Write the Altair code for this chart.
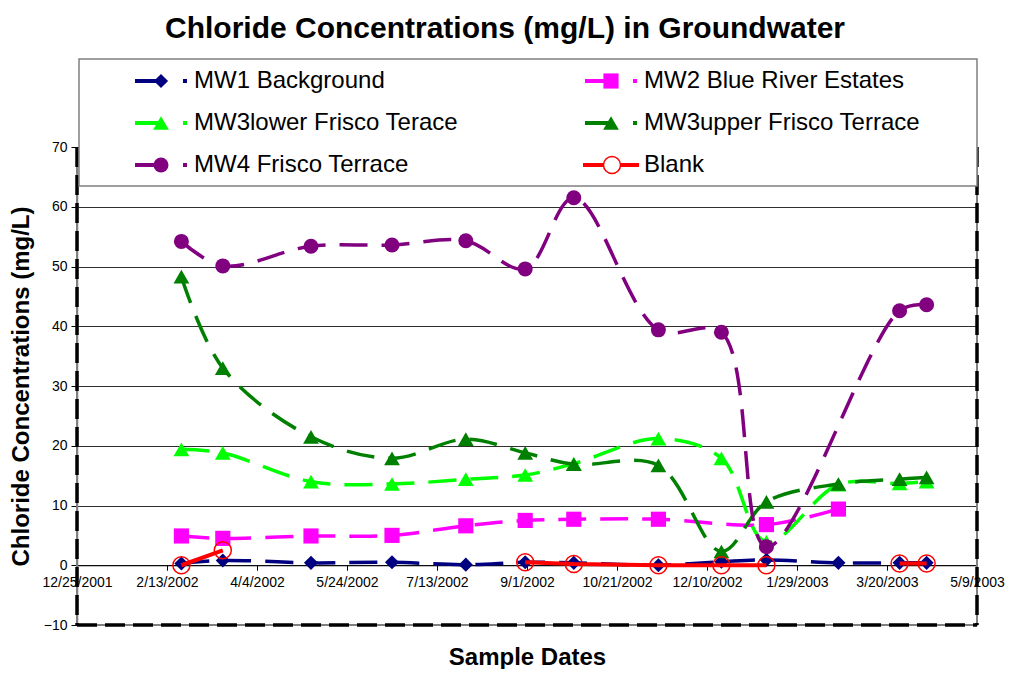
import altair as alt
import pandas as pd

# ---------------- data ----------------
DATES = ["2002-02-21", "2002-03-16", "2002-05-04", "2002-06-18", "2002-07-29",
         "2002-08-31", "2002-09-27", "2002-11-13", "2002-12-18", "2003-01-12",
         "2003-02-21", "2003-03-27", "2003-04-11"]
MW1 = [0.3, 0.8, 0.4, 0.5, 0.1, 0.5, 0.4, 0.0, 0.6, 0.9, 0.4, 0.4, 0.4]
MW2 = [4.9, 4.5, 4.9, 5.0, 6.6, 7.5, 7.7, 7.7, None, 6.8, 9.4, None, None]
MW3_LOWER = [19.4, 18.8, 14.0, 13.6, 14.4, 15.1, 17.0, 21.2, 17.9, 3.9, 13.5, 13.7, 14.0]
MW3_UPPER = [48.3, 33.0, 21.5, 17.9, 21.1, 18.8, 16.9, 16.7, 2.3, 10.6, 13.6, 14.4, 14.7]
MW4 = [54.2, 50.1, 53.4, 53.6, 54.3, 49.6, 61.5, 39.4, 39.0, 3.1, None, 42.6, 43.6]
BLANK = [0.0, 2.5, None, None, None, 0.5, 0.2, 0.0, 0.0, 0.0, None, 0.3, 0.3]

SERIES_NAMES = ["MW1 Background", "MW2 Blue River Estates", "MW3lower Frisco Terace",
                "MW3upper Frisco Terrace", "MW4 Frisco Terrace", "Blank"]
SERIES_VALUES = [MW1, MW2, MW3_LOWER, MW3_UPPER, MW4, BLANK]

TICK_DATES = ["2001-12-25", "2002-02-13", "2002-04-04", "2002-05-24", "2002-07-13",
              "2002-09-01", "2002-10-21", "2002-12-10", "2003-01-29", "2003-03-20",
              "2003-05-09"]
Y_TICKS = [-10, 0, 10, 20, 30, 40, 50, 60, 70]

# ---------------- styles ----------------
COLORS = ["#000080", "#FF00FF", "#00FF00", "#008000", "#800080", "#FF0000"]
SHAPES = ["diamond", "square", "triangle-up", "triangle-up", "circle", "circle"]
SIZES = [200, 230, 250, 250, 225, 290]
FILLED = [True, True, True, True, True, False]
DASHED = [True, True, True, True, True, False]
FONT = "Liberation Sans"
W, H = 900, 478


def dt(s):
    y, m, d = (int(p) for p in s.split("-"))
    return alt.DateTime(year=y, month=m, date=d, utc=True)


rows = []
for name, vals in zip(SERIES_NAMES, SERIES_VALUES):
    seg = 0
    for d, v in zip(DATES, vals):
        if v is None:
            if name == "Blank":
                seg += 1
            continue
        rows.append({"date": d, "series": name, "value": v, "seg": seg})
df = pd.DataFrame(rows)

X = alt.X("date:T",
          scale=alt.Scale(type="utc", domain=[dt(TICK_DATES[0]), dt(TICK_DATES[-1])]),
          axis=alt.Axis(values=[dt(t) for t in TICK_DATES], format="%-m/%-d/%Y",
                        offset=-59.75, grid=False, domainColor="black", domainWidth=1,
                        tickColor="black", tickSize=5, labelFontSize=14, labelPadding=5,
                        labelFlush=False, labelOverlap=False, labelBound=False,
                        titleFontSize=24, titleFontWeight="bold", titleY=92,
                        titleBaseline="middle"),
          title="Sample Dates")
Y = alt.Y("value:Q",
          scale=alt.Scale(domain=[-10, 70], nice=False, zero=False),
          axis=alt.Axis(values=Y_TICKS, grid=True, gridColor="#303030", gridWidth=1,
                        domainColor="#808080", domainWidth=1.5, tickColor="black",
                        tickSize=6, labelFontSize=14, labelPadding=4,
                        titleFontSize=24, titleFontWeight="bold", titleX=-56,
                        titleY=239, titleBaseline="middle"),
          title="Chloride Concentrations (mg/L)")

layers = []
for i, name in enumerate(SERIES_NAMES):
    base = alt.Chart(df).transform_filter(alt.datum.series == name)
    line_kw = dict(color=COLORS[i], strokeWidth=3.5 if DASHED[i] else 4,
                   interpolate="catmull-rom" if DASHED[i] else "linear")
    if DASHED[i]:
        line_kw["strokeDash"] = [28, 14]
    layers.append(base.mark_line(**line_kw).encode(x=X, y=Y, detail="seg:N"))
    pt_kw = dict(shape=SHAPES[i], size=SIZES[i], filled=FILLED[i], opacity=1,
                 color=COLORS[i])
    if not FILLED[i]:
        pt_kw["strokeWidth"] = 1.5
    layers.append(base.mark_point(**pt_kw).encode(x=X, y=Y))

# ---------------- dashed plot-area border ----------------
one = pd.DataFrame({"k": [0]})
for dash, col, sw in [(None, "#808080", 2), ([20, 8], "black", 3.5)]:
    kw = dict(color=col, strokeWidth=sw)
    if dash:
        kw["strokeDash"] = dash
    layers.append(alt.Chart(one).mark_rule(**kw).encode(x=alt.value(0), y=alt.value(0), y2=alt.value(H)))
    layers.append(alt.Chart(one).mark_rule(**kw).encode(x=alt.value(W), y=alt.value(0), y2=alt.value(H)))
    layers.append(alt.Chart(one).mark_rule(**kw).encode(x=alt.value(0), x2=alt.value(W), y=alt.value(H)))

# ---------------- legend box ----------------
layers.append(alt.Chart(one).mark_rect(fill="white", stroke="#808080", strokeWidth=1.5).encode(
    x=alt.value(2), x2=alt.value(W), y=alt.value(-88), y2=alt.value(39)))
ROW_Y = [-66, -24, 18]
COL_X = [58, 508]
for i, name in enumerate(SERIES_NAMES):
    r, c = i // 2, i % 2
    x0, y0 = COL_X[c], ROW_Y[r]
    lab = alt.Chart(pd.DataFrame({"label": [name]}))
    if DASHED[i]:
        layers.append(lab.mark_rule(color=COLORS[i], strokeWidth=4).encode(
            x=alt.value(x0), x2=alt.value(x0 + 24), y=alt.value(y0)))
        layers.append(lab.mark_point(shape=SHAPES[i], size=SIZES[i], filled=True,
                                     opacity=1, color=COLORS[i]).encode(
            x=alt.value(x0 + 26), y=alt.value(y0)))
        layers.append(lab.mark_square(size=16, opacity=1, color=COLORS[i]).encode(
            x=alt.value(x0 + 50), y=alt.value(y0)))
    else:
        layers.append(lab.mark_rule(color=COLORS[i], strokeWidth=4).encode(
            x=alt.value(x0 - 2), x2=alt.value(x0 + 54), y=alt.value(y0)))
        layers.append(lab.mark_point(shape="circle", size=SIZES[i], filled=False,
                                     fill="white", strokeWidth=1.5, opacity=1,
                                     color=COLORS[i]).encode(
            x=alt.value(x0 + 27), y=alt.value(y0)))
    layers.append(lab.mark_text(align="left", baseline="middle", fontSize=24,
                                font=FONT, color="black").encode(
        x=alt.value(x0 + 59), y=alt.value(y0), text="label:N"))

chart = alt.layer(*layers).properties(
    width=W, height=H,
    title=alt.TitleParams("Chloride Concentrations (mg/L) in Groundwater", fontSize=30,
                          fontWeight="bold", font=FONT, anchor="middle", dx=-22,
                          offset=14, color="black"),
    autosize=alt.AutoSizeParams(type="none"),
    padding={"left": 69, "top": 139, "right": 28, "bottom": 44},
).configure_view(stroke=None).configure_axis(
    labelFont=FONT, titleFont=FONT, labelColor="black", titleColor="black"
)

chart.save("out.html", embed_options={"renderer": "svg", "actions": False})
